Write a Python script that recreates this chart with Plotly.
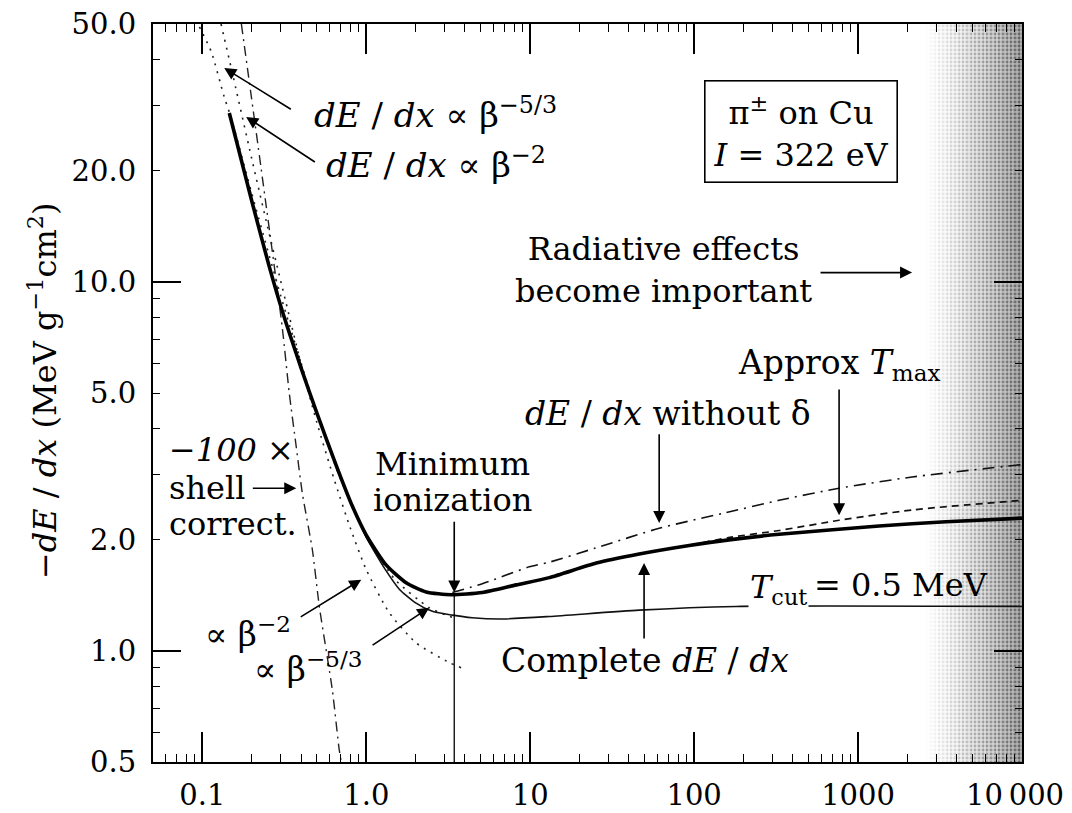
import numpy as np
import plotly.graph_objects as go

# ---------------- data ----------------
# Complete dE/dx (thick solid)
complete_x = [0.146, 0.2, 0.256, 0.307, 0.4, 0.496, 0.656, 0.822, 1.0, 1.32, 1.75, 2.32,
              3.3, 5.1, 8.22, 13.1, 25.3, 46.2, 93.3, 163, 330, 1343, 3440, 10000]
complete_y = [28.7, 16.6, 11.0, 8.35, 5.85, 4.45, 3.18, 2.47, 2.06, 1.71, 1.53, 1.445,
              1.42, 1.44, 1.51, 1.58, 1.73, 1.83, 1.93, 2.00, 2.07, 2.18, 2.24, 2.29]

# dE/dx without density-effect correction (dash-dot)
nodelta_x = [3.35, 5.1, 9.86, 13.1, 25, 61.2, 150, 330, 766, 2135, 10000]
nodelta_y = [1.44, 1.52, 1.69, 1.74, 1.90, 2.15, 2.36, 2.56, 2.76, 2.96, 3.20]

# Approx Tmax (dashed)
tmax_x = [81, 165, 330, 766, 2135, 10000]
tmax_y = [1.91, 2.03, 2.12, 2.26, 2.41, 2.56]

# Restricted loss, Tcut = 0.5 MeV (thin solid)
tcut_x = [0.9, 1.0, 1.32, 1.59, 2.0, 2.53, 3.35, 4.43, 6.5, 13.1, 46.2, 180, 10000]
tcut_y = [2.26, 2.03, 1.65, 1.47, 1.35, 1.28, 1.25, 1.23, 1.22, 1.24, 1.29, 1.32, 1.32]

# proportional to beta^-2 (dotted)
beta2_x = [0.13, 0.15, 0.2, 0.25, 0.3, 0.4, 0.5, 0.638, 0.8, 1.0, 1.38, 2.02, 3.21, 3.8]
beta2_y = [50, 38, 21.6, 14.1, 10.1, 6.0, 4.15, 2.91, 2.15, 1.66, 1.27, 1.05, 0.93, 0.90]

# proportional to beta^-5/3 (dotted)
beta53_x = [0.096, 0.1135, 0.136, 0.15, 0.2, 0.3, 0.5, 0.7, 1.0, 1.5, 2.42, 3.4]
beta53_y = [49.1, 42.0, 31.7, 27.8, 17.4, 9.2, 4.4, 2.91, 2.05, 1.56, 1.31, 1.23]

# -100 x shell correction (dash-dot)
shell_x = [0.173, 0.229, 0.307, 0.339, 0.374, 0.407, 0.469, 0.517, 0.621, 0.684, 0.704]
shell_y = [50, 20.1, 7.55, 5.0, 3.57, 2.68, 1.88, 1.32, 0.783, 0.539, 0.5]

# minimum ionization marker
minion_x = 3.44
minion_y = 1.42

# radiative region (shaded) starts about here
radiative_start = 2600

# axes
x_range = [0.05, 10000]
y_range = [0.5, 50]
x_tick_vals = [0.1, 1, 10, 100, 1000, 10000]
x_tick_text = ["0.1", "1.0", "10", "100", "1000", ""]
x_last_label = "10\u2009000"   # drawn separately so it stays inside the page
y_tick_vals = [0.5, 1, 2, 5, 10, 20, 50]
y_tick_text = ["0.5", "1.0", "2.0", "5.0", "10.0", "20.0", "50.0"]
y_decades = [1, 10]

# ---------------- figure ----------------
FONT = "DejaVu Serif"
INK = "#000000"

fig = go.Figure()

# stippled shading of radiative region: grey gradient with a dot texture
n = 32
edges = np.logspace(np.log10(radiative_start), np.log10(x_range[1]), n + 1)
for i in range(n):
    t = (i + 0.5) / n
    bg = 0.5 * t ** 1.8
    fg = 0.85 * t ** 0.9
    x0, x1 = edges[i], edges[i + 1] * 1.002
    fig.add_trace(go.Scatter(
        x=[x0, x1, x1, x0, x0], y=[y_range[0], y_range[0], y_range[1], y_range[1], y_range[0]],
        mode="none", fill="toself", fillcolor=f"rgba(90,90,90,{bg:.3f})",
        fillpattern=dict(shape=".", size=4, solidity=0.4,
                         fgcolor=f"rgba(0,0,0,{fg:.3f})",
                         bgcolor=f"rgba(90,90,90,{bg:.3f})"),
        hoverinfo="skip", showlegend=False))


def curve(x, y, width, dash, color=INK):
    fig.add_trace(go.Scatter(
        x=x, y=y, mode="lines",
        line=dict(color=color, width=width, dash=dash, shape="spline", smoothing=0.6),
        hoverinfo="skip", showlegend=False))


curve(shell_x, shell_y, 1.4, "10px,5px,2px,5px", "#222")
curve(beta2_x, beta2_y, 1.6, "2px,6px", "#222")
curve(beta53_x, beta53_y, 1.6, "2px,6px", "#222")
curve(tcut_x, tcut_y, 1.6, "solid", "#111")
curve(nodelta_x, nodelta_y, 1.6, "12px,6px,2px,6px", "#111")
curve(tmax_x, tmax_y, 1.7, "7px,5px", "#111")
curve(complete_x, complete_y, 3.6, "solid")

# vertical line under minimum ionization
fig.add_trace(go.Scatter(x=[minion_x, minion_x], y=[minion_y, y_range[0]], mode="lines",
                         line=dict(color=INK, width=1.3), hoverinfo="skip", showlegend=False))
# helper trace so the decade-tick overlay axis is drawn
fig.add_trace(go.Scatter(x=[minion_x], y=[minion_y], yaxis="y2", mode="markers",
                         marker=dict(opacity=0), hoverinfo="skip", showlegend=False))

L = np.log10
SIZE = 33


def label(text, x, y, xanchor="center", align="center", size=SIZE, **kw):
    fig.add_annotation(text=text, x=L(x), y=L(y), xref="x", yref="y", showarrow=False,
                       xanchor=xanchor, yanchor="middle", align=align,
                       font=dict(family=FONT, size=size, color=INK), **kw)


def arrow(xt, yt, xs, ys):
    fig.add_annotation(text="", x=L(xt), y=L(yt), ax=L(xs), ay=L(ys),
                       xref="x", yref="y", axref="x", ayref="y", showarrow=True,
                       arrowhead=2, arrowsize=1.5, arrowwidth=1.6, arrowcolor=INK)


DEDX = "<i>dE</i> / <i>dx</i>"

label(DEDX + " \u221d \u03b2<sup>\u22125/3</sup>", 2.63, 28.7, size=34)
arrow(0.136, 38.0, 0.354, 29.2)
label(DEDX + " \u221d \u03b2<sup>\u22122</sup>", 2.67, 21.0, size=34)
arrow(0.185, 28.0, 0.496, 21.0)

label("\u03c0<sup>\u00b1</sup> on Cu<br><i>I</i> = 322 eV", 449, 25.5, size=32,
      bordercolor=INK, borderwidth=1.6, borderpad=8, bgcolor="white")

label("Radiative effects<br>become important", 64.7, 10.8, size=32)
arrow(2135, 10.6, 578, 10.6)

label("Approx <i>T</i><sub>max</sub>", 766, 5.96)
arrow(766, 2.33, 766, 5.16)

label(DEDX + " without \u03b4", 69.4, 4.41)
arrow(61.2, 2.22, 61.2, 3.90)

label("Minimum", 3.35, 3.21, size=32)
label("ionization", 3.35, 2.565, size=32)
arrow(3.44, 1.44, 3.44, 2.26)

label("<i>\u2212100</i> \u00d7", 0.0612, 3.50, xanchor="left", size=32)
label("shell", 0.0612, 2.76, xanchor="left", size=32)
label("correct.", 0.0612, 2.21, xanchor="left", size=32)
arrow(0.374, 2.76, 0.199, 2.76)

label("\u221d \u03b2<sup>\u22122</sup>", 0.191, 1.12)
arrow(0.932, 1.56, 0.390, 1.23)
label("\u221d \u03b2<sup>\u22125/3</sup>", 0.443, 0.904)
arrow(2.42, 1.31, 1.07, 1.03)

label("<i>T</i><sub>cut</sub>", 325, 1.47, bgcolor="white", size=32)
label("= 0.5 MeV", 1840, 1.51, size=32)

label("Complete " + DEDX, 50.3, 0.944)
arrow(49.5, 1.73, 49.5, 1.07)

# last x tick label, right-aligned so it is not clipped by the page edge
fig.add_annotation(text=x_last_label, xref="paper", yref="paper", x=1.0506, y=-0.0447,
                   xanchor="right", yanchor="middle", showarrow=False,
                   font=dict(family=FONT, size=29, color=INK))

# y-axis title
fig.add_annotation(text="\u2212<i>dE</i> / <i>dx</i> (MeV g<sup>\u22121</sup>cm<sup>2</sup>)",
                   xref="paper", yref="paper", x=-0.1266, y=0.5027, textangle=-90,
                   showarrow=False, xanchor="center", yanchor="middle",
                   font=dict(family=FONT, size=32, color=INK))

x_minor = [m * 10.0 ** k for k in range(-2, 4) for m in range(2, 10)
           if x_range[0] < m * 10.0 ** k < x_range[1]]
y_minor = [m * 10.0 ** k for k in range(-1, 2) for m in range(2, 10)
           if y_range[0] < m * 10.0 ** k < y_range[1] and m * 10.0 ** k not in y_tick_vals]

axis_common = dict(type="log", showgrid=False, zeroline=False, ticks="inside",
                   tickcolor=INK, showline=True, linewidth=2, linecolor=INK, mirror="ticks",
                   automargin=False, ticklabeloverflow="allow",
                   tickfont=dict(family=FONT, size=29, color=INK))

# the page body adds an 8 px offset, so the figure is sized to the visible area
fig.update_layout(
    width=1064, height=805,
    margin=dict(l=145, r=50, t=16, b=51, autoexpand=False),
    paper_bgcolor="white", plot_bgcolor="white",
    showlegend=False,
    xaxis=dict(range=[L(x_range[0]), L(x_range[1])], tickmode="array",
               tickvals=x_tick_vals, ticktext=x_tick_text, ticklen=30, tickwidth=1.6,
               ticklabelstandoff=6,
               minor=dict(tickmode="array", tickvals=x_minor, ticks="inside", ticklen=8,
                          tickwidth=1.2, tickcolor=INK, showgrid=False),
               **axis_common),
    yaxis=dict(range=[L(y_range[0]), L(y_range[1])], tickmode="array",
               tickvals=y_tick_vals, ticktext=y_tick_text, ticklen=7, tickwidth=1.4,
               ticklabelstandoff=9,
               minor=dict(tickmode="array", tickvals=y_minor, ticks="inside", ticklen=7,
                          tickwidth=1.2, tickcolor=INK, showgrid=False),
               **axis_common),
    yaxis2=dict(type="log", range=[L(y_range[0]), L(y_range[1])], overlaying="y",
                side="left", anchor="x", tickmode="array", tickvals=y_decades,
                ticks="inside", ticklen=28, tickwidth=1.6, tickcolor=INK,
                showticklabels=False, showgrid=False, zeroline=False, showline=False,
                mirror="ticks", automargin=False),
)

fig.write_html("out.html")
